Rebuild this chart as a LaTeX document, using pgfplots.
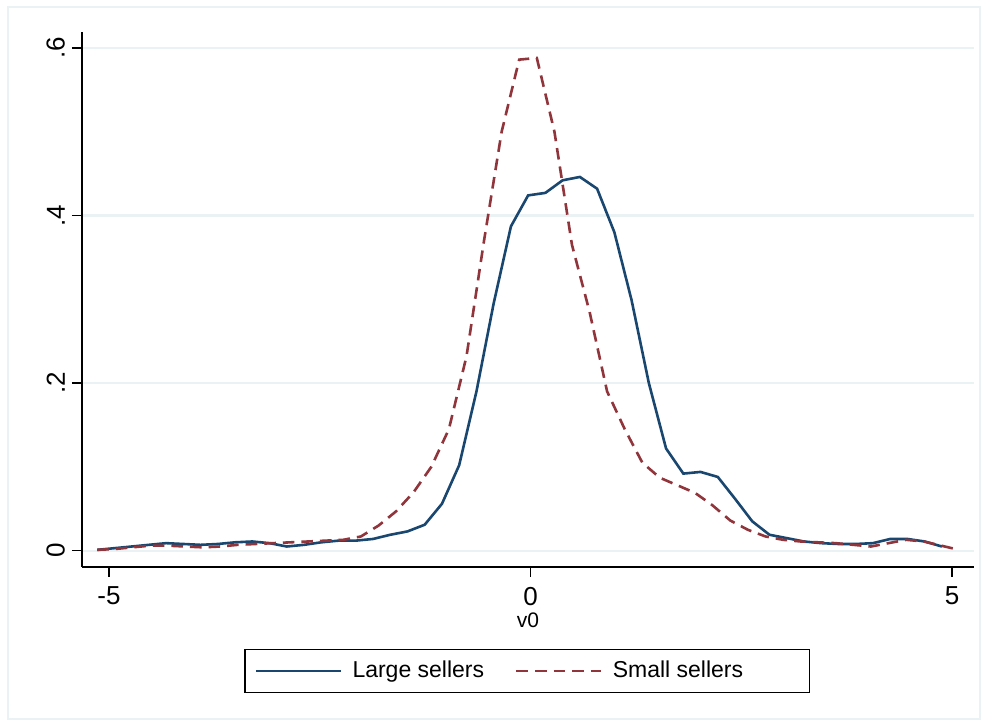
\documentclass[border=0pt]{standalone}
\usepackage{fontspec}
\setmainfont{Liberation Sans}
\usepackage{pgfplots}
\usepackage{pgfplotstable}
\pgfplotsset{compat=1.18}
\definecolor{stnavy}{RGB}{26,71,111}
\definecolor{stmaroon}{RGB}{144,53,59}
\definecolor{gridc}{RGB}{234,242,243}
\pgfplotstableread{
x y
-5.140 0.001
-4.936 0.003
-4.731 0.005
-4.527 0.007
-4.322 0.009
-4.118 0.008
-3.913 0.007
-3.709 0.008
-3.504 0.010
-3.300 0.011
-3.095 0.009
-2.891 0.005
-2.686 0.007
-2.482 0.010
-2.277 0.012
-2.073 0.012
-1.868 0.014
-1.664 0.019
-1.459 0.023
-1.255 0.031
-1.050 0.056
-0.846 0.102
-0.641 0.190
-0.437 0.295
-0.232 0.387
-0.028 0.424
0.177 0.427
0.381 0.442
0.586 0.446
0.790 0.432
0.995 0.380
1.199 0.299
1.404 0.200
1.608 0.122
1.813 0.092
2.017 0.094
2.222 0.088
2.426 0.062
2.631 0.035
2.835 0.019
3.040 0.015
3.244 0.011
3.449 0.009
3.653 0.008
3.858 0.008
4.062 0.009
4.267 0.014
4.471 0.014
4.676 0.011
4.880 0.005
}\large
\pgfplotstableread{
x y
-5.140 0.001
-4.931 0.002
-4.723 0.004
-4.514 0.006
-4.306 0.006
-4.097 0.005
-3.888 0.004
-3.680 0.005
-3.471 0.007
-3.263 0.008
-3.054 0.009
-2.845 0.010
-2.637 0.011
-2.428 0.012
-2.220 0.013
-2.011 0.017
-1.802 0.030
-1.594 0.047
-1.385 0.070
-1.177 0.100
-0.968 0.145
-0.759 0.232
-0.551 0.370
-0.342 0.500
-0.134 0.586
0.075 0.588
0.284 0.500
0.492 0.365
0.701 0.285
0.909 0.190
1.118 0.145
1.327 0.105
1.535 0.087
1.744 0.078
1.952 0.069
2.161 0.054
2.370 0.036
2.578 0.025
2.787 0.017
2.995 0.013
3.204 0.011
3.413 0.010
3.621 0.009
3.830 0.007
4.038 0.005
4.247 0.009
4.456 0.013
4.664 0.011
4.873 0.006
5.082 0.001
}\small
\begin{document}
\begin{tikzpicture}
\begin{axis}[
  name=ax,
  scale only axis,
  width=446pt, height=267.5pt,
  xmin=-5.320, xmax=5.261,
  ymin=-0.01945, ymax=0.6190,
  axis x line*=bottom, axis y line*=left,
  axis line style={-, line width=0.7pt, black},
  tick align=outside,
  major tick length=5pt,
  tick style={line width=0.7pt, black},
  xtick={-5,0,5}, xticklabels={-5,0,5},
  ytick={0,0.2,0.4,0.6}, yticklabels={0,.2,.4,.6},
  ticklabel style={font=\fontsize{13}{15}\selectfont},
  xticklabel style={yshift=-1.5pt},
  yticklabel style={rotate=90, anchor=south},
  ymajorgrids,
  grid style={color=gridc, line width=1.1pt},
  xlabel={v0},
  xlabel style={font=\fontsize{10.5}{12}\selectfont, yshift=1pt, inner sep=1pt},
  legend columns=2,
  legend style={at={(0.4989,-0.1944)}, anchor=center, draw=black, line width=0.6pt,
    font=\fontsize{11.5}{13.5}\selectfont, inner xsep=5pt, inner ysep=4pt},
  legend image code/.code={\draw[#1] (0pt,0pt) -- (42.5pt,0pt);},
]
\addplot[stnavy, line width=1.3pt] table[x=x,y=y] {\large};
\addlegendentry{\kern3pt Large sellers\kern13.5pt\null}
\addplot[stmaroon, line width=1.3pt, dash pattern=on 5.8pt off 3.5pt] table[x=x,y=y] {\small};
\addlegendentry{\kern3pt Small sellers\kern26pt\null}
\end{axis}
\draw[gridc, line width=1pt] ([shift={(-37pt,-76pt)}]ax.south west) rectangle ([shift={(449pt,280pt)}]ax.south west);
\path ([shift={(-41pt,-79.5pt)}]ax.south west) rectangle ([shift={(453pt,283.5pt)}]ax.south west);
\end{tikzpicture}
\end{document}
